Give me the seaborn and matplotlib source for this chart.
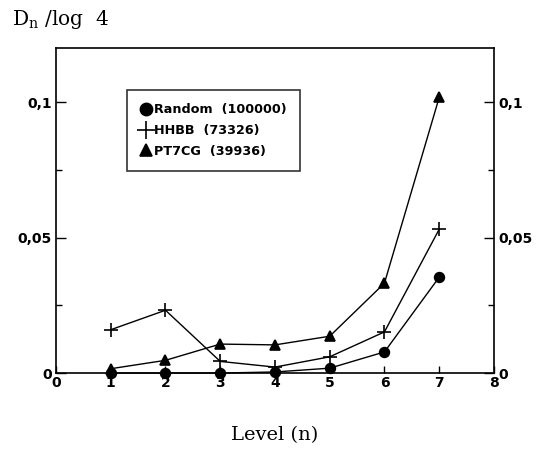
import matplotlib
matplotlib.use("Agg")
import matplotlib.pyplot as plt
import seaborn as sns
import pandas as pd
from matplotlib.ticker import FixedLocator

# values
levels = [1, 2, 3, 4, 5, 6, 7]
random_vals = [0.0, 0.0, 0.0, 0.0004, 0.0018, 0.0078, 0.0354]
hhbb_vals = [0.0160, 0.0232, 0.0043, 0.0022, 0.0060, 0.0152, 0.0531]
pt7cg_vals = [0.0016, 0.0047, 0.0107, 0.0104, 0.0136, 0.0332, 0.1018]
series_names = ["Random  (100000)", "HHBB  (73326)", "PT7CG  (39936)"]
x_ticks = [0, 1, 2, 3, 4, 5, 6, 7, 8]
y_ticks = [0, 0.05, 0.1]
y_tick_labels = ["0", "0,05", "0,1"]

df = pd.DataFrame({
    "level": levels * 3,
    "value": random_vals + hhbb_vals + pt7cg_vals,
    "series": [series_names[0]] * 7 + [series_names[1]] * 7 + [series_names[2]] * 7,
})

sns.set_style("ticks")
plt.rcParams["font.family"] = ["DejaVu Sans"]
plt.rcParams["text.color"] = "black"
plt.rcParams["axes.labelcolor"] = "black"
plt.rcParams["xtick.color"] = "black"
plt.rcParams["ytick.color"] = "black"

fig = plt.figure(figsize=(5.41, 4.5), dpi=100)
ax = fig.add_axes([0.1035, 0.171, 0.8095, 0.722])

markers = {series_names[0]: "o", series_names[1]: "+", series_names[2]: "^"}
sizes = {series_names[0]: 7, series_names[1]: 10, series_names[2]: 6.5}
for name in series_names:
    sub = df[df["series"] == name]
    sns.lineplot(data=sub, x="level", y="value", ax=ax, color="black",
                 linewidth=1.0, marker=markers[name], markersize=sizes[name],
                 markeredgewidth=1.2, markeredgecolor="black", label=name,
                 clip_on=False)

ax.set_xlim(0, 8)
ax.set_ylim(0, 0.12)
ax.set_xticks(x_ticks)
ax.set_xticklabels([str(t) for t in x_ticks], fontsize=10, fontweight="bold")
ax.set_yticks(y_ticks)
ax.set_yticklabels(y_tick_labels, fontsize=10, fontweight="bold")
ax.yaxis.set_minor_locator(FixedLocator([0.025, 0.075]))
ax.tick_params(axis="both", which="both", direction="in", right=True,
               labelright=True, top=False, color="black")
ax.tick_params(axis="y", which="major", length=7, width=1, pad=3)
ax.tick_params(axis="y", which="minor", length=4, width=1)
ax.tick_params(axis="x", which="major", length=5, width=1, pad=2)
for side in ["left", "right", "bottom", "top"]:
    ax.spines[side].set_visible(True)
    ax.spines[side].set_color("black")
    ax.spines[side].set_linewidth(1.2)

ax.set_xlabel("Level (n)", family="DejaVu Serif", fontsize=14, labelpad=26)
ax.set_ylabel("")
fig.text(0.022, 0.945, r"D$_\mathregular{n}$ /log  4", family="DejaVu Serif",
         fontsize=14.5)

leg = ax.legend(loc="upper left", bbox_to_anchor=(0.162, 0.871),
                borderaxespad=0, frameon=True, fancybox=False,
                edgecolor="black", handlelength=0.9, handletextpad=0.2,
                borderpad=1.05, labelspacing=0.6, markerscale=1.25,
                prop={"weight": "bold", "size": 9.2})
leg.get_frame().set_linewidth(1.2)
for line in leg.get_lines():
    line.set_linestyle("none")

fig.savefig("out.png", dpi=100)
